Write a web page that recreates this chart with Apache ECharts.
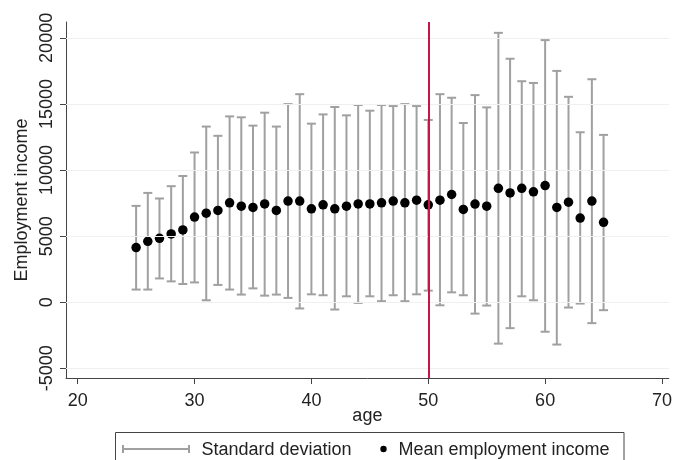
<!DOCTYPE html>
<html>
<head>
<meta charset="utf-8">
<script src="https://cdn.jsdelivr.net/npm/echarts@6/dist/echarts.min.js"></script>
<style>html,body{margin:0;padding:0;background:#fff}#c{width:675px;height:460px}</style>
</head>
<body>
<div id="c"></div>
<script>
const ages = [25,26,27,28,29,30,31,32,33,34,35,36,37,38,39,40,41,42,43,44,45,46,47,48,49,50,51,52,53,54,55,56,57,58,59,60,61,62,63,64,65];
const meanIncome = [4140,4610,4840,5170,5470,6440,6740,6950,7520,7270,7170,7440,6950,7650,7650,7070,7370,7070,7270,7440,7440,7520,7650,7520,7720,7370,7720,8150,7020,7430,7270,8620,8270,8620,8350,8830,7170,7570,6370,7650,6050];
const sdUpper = [7290,8270,7850,8780,9550,11330,13290,12590,14060,13990,13360,14340,13290,14990,15740,13510,14210,14770,14140,14920,14490,14920,14840,14990,14840,13790,15740,15470,13560,15670,14740,20380,18420,16720,16590,19830,17500,15540,12860,16870,12660];
const sdLower = [960,960,1800,1580,1380,1500,150,1310,960,580,1050,500,580,330,-470,600,530,-550,450,-50,450,80,530,80,600,880,-230,750,530,-860,-250,-3130,-1960,450,150,-2230,-3200,-400,-100,-1580,-600];
const xTicks = [20,30,40,50,60,70];
const yTicks = [-5000,0,5000,10000,15000,20000];
const cutoffAge = 50;
const xAxisName = 'age';
const yAxisName = 'Employment income';
const legendNames = ['Standard deviation','Mean employment income'];

const FONT = 'Liberation Sans, Arial, sans-serif';
const FS = 18;
const chart = echarts.init(document.getElementById('c'), null, {renderer:'canvas'});

const barData = ages.map((a,i)=>[a, sdLower[i], sdUpper[i]]);
const dotData = ages.map((a,i)=>[a, meanIncome[i]]);

const option = {
  animation:false,
  backgroundColor:'#fff',
  grid:{left:66, right:5, top:22, bottom:82, containLabel:false},
  xAxis:{
    type:'value', min:19.0, max:70.58,
    name:xAxisName, nameLocation:'middle', nameGap:29, nameMoveOverlap:false,
    nameTextStyle:{fontFamily:FONT, fontSize:FS, color:'#222'},
    axisLine:{show:true, onZero:false, lineStyle:{color:'#444', width:1}},
    axisTick:{show:true, length:6, customValues:xTicks, lineStyle:{color:'#444'}},
    axisLabel:{customValues:xTicks, margin:14, fontFamily:FONT, fontSize:FS, color:'#222', formatter:v=>String(v)},
    splitLine:{show:false}
  },
  yAxis:{
    type:'value', min:-5730, max:21200,
    name:yAxisName, nameLocation:'middle', nameGap:35, nameRotate:90, nameMoveOverlap:false,
    nameTextStyle:{fontFamily:FONT, fontSize:FS, color:'#222'},
    axisLine:{show:true, onZero:false, lineStyle:{color:'#444', width:1}},
    axisTick:{show:true, length:6, customValues:yTicks, lineStyle:{color:'#444'}},
    axisLabel:{customValues:yTicks, rotate:90, margin:10, fontFamily:FONT, fontSize:FS, color:'#222', formatter:v=>String(v)},
    splitLine:{show:false}
  },
  series:[
    {
      type:'line', data:[], z:1, silent:true,
      markLine:{
        silent:true, symbol:['none','none'], label:{show:false},
        data: yTicks.map(v=>({yAxis:v, lineStyle:{color:'#f0f0f0', width:1, type:'solid'}}))
          .concat([{xAxis:cutoffAge, lineStyle:{color:'#c8144b', width:2, type:'solid'}}])
      }
    },
    {
      type:'custom', name:legendNames[0], z:3, data:barData,
      encode:{x:0, y:[1,2]},
      renderItem:function(params, api){
        const x = api.value(0);
        const lo = api.coord([x, api.value(1)]);
        const hi = api.coord([x, api.value(2)]);
        const hw = 4.5;
        const st = {stroke:'#a0a0a0', lineWidth:2, fill:null};
        return {type:'group', children:[
          {type:'line', shape:{x1:lo[0], y1:lo[1], x2:hi[0], y2:hi[1]}, style:st},
          {type:'line', shape:{x1:hi[0]-hw, y1:hi[1], x2:hi[0]+hw, y2:hi[1]}, style:st},
          {type:'line', shape:{x1:lo[0]-hw, y1:lo[1], x2:lo[0]+hw, y2:lo[1]}, style:st}
        ]};
      }
    },
    {
      type:'scatter', name:legendNames[1], z:4, data:dotData,
      symbol:'circle', symbolSize:9.5,
      itemStyle:{color:'#000', opacity:1}
    }
  ],
  graphic:[
    {type:'rect', shape:{x:115.5, y:432.5, width:508.5, height:40}, style:{fill:'#fff', stroke:'#444', lineWidth:1}, z:10},
    {type:'line', shape:{x1:123, y1:449, x2:189, y2:449}, style:{stroke:'#a0a0a0', lineWidth:2}, z:11},
    {type:'line', shape:{x1:123, y1:445, x2:123, y2:453}, style:{stroke:'#a0a0a0', lineWidth:2}, z:11},
    {type:'line', shape:{x1:189, y1:445, x2:189, y2:453}, style:{stroke:'#a0a0a0', lineWidth:2}, z:11},
    {type:'text', x:201.5, y:450, style:{text:legendNames[0], fontFamily:FONT, fontSize:FS, fill:'#222', verticalAlign:'middle', align:'left'}, z:11},
    {type:'circle', shape:{cx:383.5, cy:449, r:3.2}, style:{fill:'#000'}, z:11},
    {type:'text', x:398.5, y:450, style:{text:legendNames[1], fontFamily:FONT, fontSize:FS, fill:'#222', verticalAlign:'middle', align:'left'}, z:11}
  ]
};
chart.setOption(option);
</script>
</body>
</html>
